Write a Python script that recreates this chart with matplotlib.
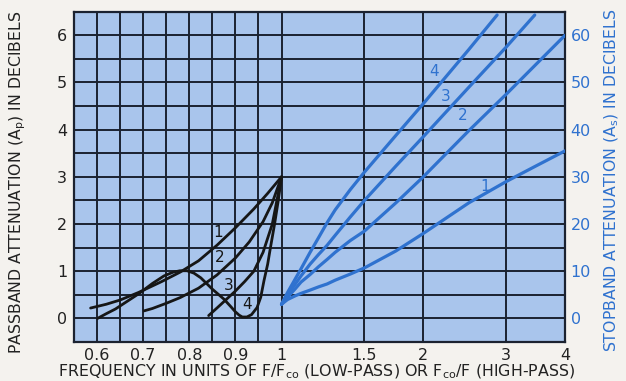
"""Passband / stopband attenuation chart for filters of 1 to 4 sections."""
import numpy as np
import matplotlib
matplotlib.use('Agg')
import matplotlib.pyplot as plt

# passband curves (black, left axis, dB)
pass_x1 = [0.586, 0.62, 0.65, 0.69, 0.74, 0.78, 0.82, 0.86, 0.90, 0.94, 0.97, 1.0]
pass_y1 = [0.22, 0.30, 0.39, 0.55, 0.78, 0.98, 1.22, 1.55, 1.92, 2.32, 2.65, 3.0]
pass_x2 = [0.702, 0.72, 0.75, 0.78, 0.82, 0.86, 0.90, 0.93, 0.96, 0.98, 1.0]
pass_y2 = [0.16, 0.21, 0.32, 0.44, 0.64, 0.92, 1.28, 1.62, 2.05, 2.45, 3.0]
pass_x3 = [0.842, 0.86, 0.88, 0.90, 0.92, 0.94, 0.96, 0.98, 1.0]
pass_y3 = [0.06, 0.22, 0.40, 0.58, 0.78, 1.0, 1.4, 2.0, 3.0]
pass_x4 = [0.601, 0.62, 0.64, 0.665, 0.69, 0.72, 0.745, 0.765, 0.78, 0.795,
           0.81, 0.825, 0.85, 0.875, 0.89, 0.90, 0.908, 0.915, 0.925, 0.935,
           0.947, 0.955, 0.962, 0.97, 0.976, 0.985, 0.993, 1.0]
pass_y4 = [0.0, 0.1, 0.2, 0.36, 0.52, 0.74, 0.90, 0.98, 1.01, 1.01,
           0.96, 0.86, 0.62, 0.41, 0.25, 0.14, 0.07, 0.03, 0.03, 0.08,
           0.23, 0.45, 0.8, 1.15, 1.5, 2.0, 2.5, 3.0]

# stopband curves (blue, right axis, dB)
stop_x = [1.0, 1.03, 1.07, 1.1, 1.15, 1.2, 1.25, 1.3, 1.4, 1.5, 1.75, 2.0,
          2.5, 3.0, 3.5, 4.0]
stop_y1 = [3, 4.0, 4.8, 5.3, 6.0, 6.7, 7.3, 8.1, 9.4, 10.7, 14.3, 18,
           24.5, 29, 32.5, 35.5]
stop_y2 = [3, 4.5, 6.3, 7.7, 9.3, 11.0, 12.5, 14.0, 16.5, 18.5, 24.5, 30,
           39.8, 47.5, 54.2, 60]
stop_x3 = [1.0, 1.03, 1.07, 1.1, 1.15, 1.2, 1.25, 1.3, 1.4, 1.5, 1.75, 2.0,
           2.5, 3.0, 3.45]
stop_y3 = [3, 5.0, 7.3, 9.0, 11.5, 13.6, 15.5, 17.6, 21.5, 25, 32.3, 38.5,
           49, 57.5, 64.3]
stop_x4 = [1.0, 1.03, 1.07, 1.1, 1.15, 1.2, 1.25, 1.3, 1.4, 1.5, 1.75, 2.0,
           2.5, 2.87]
stop_y4 = [3, 5.5, 8.4, 10.5, 14, 17.2, 20.3, 23.0, 27.3, 31, 38.8, 45.5,
           57, 64.3]

x_ticks = [0.6, 0.7, 0.8, 0.9, 1, 1.5, 2, 3, 4]
x_ticklabels = ['0.6', '0.7', '0.8', '0.9', '1', '1.5', '2', '3', '4']
x_grid = [0.6, 0.65, 0.7, 0.75, 0.8, 0.85, 0.9, 0.95, 1.0, 1.5, 2, 3]

BLUE = '#2f72cf'
INK = '#1b2230'
K1 = 460 / 204  # linear part (below 1) vs. log part (above 1)


def fwd(x):
    x = np.asarray(x, dtype=float)
    return np.where(x < 1, (x - 1) * K1, np.log(np.maximum(x, 1e-9)))


def inv(t):
    t = np.asarray(t, dtype=float)
    return np.where(t < 0, 1 + t / K1, np.exp(t))


fig = plt.figure(figsize=(6.26, 3.81), dpi=100)
fig.patch.set_facecolor('#f4f2ee')
ax = fig.add_axes([74 / 626, 39 / 381, 491 / 626, 330.3 / 381])
ax.set_facecolor('#a9c5ec')
ax.set_xscale('function', functions=(fwd, inv))
ax.set_xlim(0.55, 4)
ax.set_ylim(-0.5, 6.5)

for xv in x_grid:
    ax.axvline(xv, color=INK, lw=1.4, zorder=1)
for yv in np.arange(0, 6.5, 0.5):
    ax.axhline(yv, color=INK, lw=1.4, zorder=1)
for sp in ax.spines.values():
    sp.set_color(INK)
    sp.set_linewidth(1.6)

for px, py in [(pass_x1, pass_y1), (pass_x2, pass_y2),
               (pass_x3, pass_y3), (pass_x4, pass_y4)]:
    ax.plot(px, py, color='#161616', lw=2.0, solid_capstyle='round',
            solid_joinstyle='round', zorder=3)

ax.set_xticks(x_ticks)
ax.set_xticklabels(x_ticklabels)
ax.xaxis.set_minor_locator(matplotlib.ticker.NullLocator())
ax.set_yticks(range(0, 7))
ax.tick_params(length=0, labelsize=11.5, colors='#222222')
ax.tick_params(axis='y', pad=5)
ax.tick_params(axis='x', pad=4)

for s, (lx, ly) in zip('1234', [(0.862, 1.82), (0.865, 1.30), (0.885, 0.70), (0.925, 0.29)]):
    ax.text(lx, ly, s, fontsize=11, color='#161616', ha='center', va='center', zorder=4)

ax2 = ax.twinx()
ax2.set_ylim(-5, 65)
ax2.set_yticks(range(0, 70, 10))
ax2.tick_params(length=0, labelsize=11.5, colors=BLUE, pad=4)
for sp in ax2.spines.values():
    sp.set_visible(False)
for sx, sy in [(stop_x, stop_y1), (stop_x, stop_y2), (stop_x3, stop_y3), (stop_x4, stop_y4)]:
    ax2.plot(sx, sy, color=BLUE, lw=2.3, solid_capstyle='round', solid_joinstyle='round')

for s, (lx, ly) in zip('1234', [(2.71, 27.9), (2.42, 43.1), (2.23, 47.0), (2.11, 52.3)]):
    ax2.text(lx, ly, s, fontsize=11, color=BLUE, ha='center', va='center')

fig.text(0.505, 9 / 381,
         'FREQUENCY IN UNITS OF F/F$_{\\rm co}$ (LOW-PASS) OR F$_{\\rm co}$/F (HIGH-PASS)',
         ha='center', va='center', fontsize=11.4, color='#222222')
fig.text(18 / 626, 0.522, 'PASSBAND ATTENUATION (A$_{\\rm p}$) IN DECIBELS',
         rotation=90, ha='center', va='center', fontsize=11.3, color='#222222')
fig.text(612 / 626, 0.527, 'STOPBAND ATTENUATION (A$_{\\rm s}$) IN DECIBELS',
         rotation=90, ha='center', va='center', fontsize=11.3, color=BLUE)

fig.savefig('out.png', dpi=100, facecolor=fig.get_facecolor())
